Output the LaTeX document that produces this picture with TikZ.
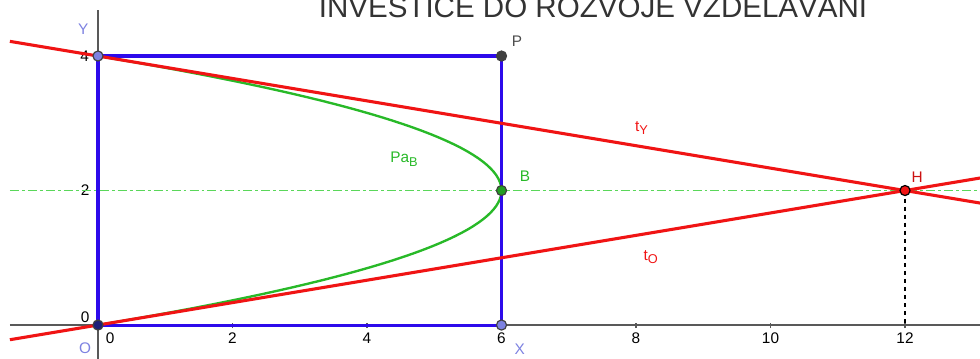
\documentclass[tikz,border=0pt]{standalone}
\usepackage{fontspec}
\setmainfont{Liberation Sans}
\usetikzlibrary{arrows.meta,positioning}
\definecolor{ggblue}{RGB}{45,10,235}
\definecolor{ggred}{RGB}{240,20,20}
\definecolor{gggreen}{RGB}{40,185,40}
\definecolor{gglight}{RGB}{90,215,90}
\definecolor{ggpale}{RGB}{125,130,225}
\definecolor{ggnavy}{RGB}{30,30,120}
\newcommand{\lowsub}[1]{\raisebox{-0.45ex}{\fontsize{5.4}{6}\selectfont #1}}

\begin{document}
\begin{tikzpicture}[
    x=1cm, y=1cm,
    every node/.style={font=\fontsize{6.5}{7.5}\selectfont},
    axis/.style={draw=black!65, line width=0.6pt},
    edge/.style={draw=ggblue, line width=1.3pt},
    tangent/.style={draw=ggred, line width=1.3pt},
    curve/.style={draw=gggreen, line width=1pt},
    level/.style={draw=gglight, line width=0.6pt, dash pattern=on 3.8pt off 1.3pt on 1.2pt off 1.3pt},
    drop/.style={draw=black, line width=0.7pt, dash pattern=on 1.7pt off 1.7pt},
    pt/.style={circle, draw=black!75, line width=0.5pt, inner sep=0pt, minimum size=1.5mm},
    ticklabel/.style={font=\fontsize{6.5}{7.5}\selectfont, inner sep=0pt}
]
\useasboundingbox (-1.457,-0.491) rectangle (13.115,4.833);
\clip (-1.457,-0.491) rectangle (13.115,4.833);
\node[anchor=base, font=\fontsize{12.5}{14}\selectfont, text=black!80] (banner) at (7.36,4.58) {INVESTICE DO ROZVOJE VZDĚLÁVÁNÍ};
\coordinate (o) at (0,0);
\coordinate (y) at (0,4);
\coordinate (p) at (6,4);
\coordinate (x) at (6,0);
\coordinate (b) at (6,2);
\coordinate (h) at (12,2);
\coordinate (h0) at (12,0);
\coordinate (xaxL) at (-1.31,0);
\coordinate (xaxR) at (13.5,0);
\coordinate (yaxB) at (0,-0.6);
\coordinate (yaxT) at (0,4.68);
\coordinate (lvlL) at (-1.31,2);
\coordinate (lvlR) at (13.5,2);
\coordinate (tyL) at (-1.31,{4+1.31/6});
\coordinate (tyR) at (13.5,{4-13.5/6});
\coordinate (toL) at (-1.31,{-1.31/6});
\coordinate (toR) at (13.5,{13.5/6});
\draw[axis] (xaxL) -- (xaxR);
\draw[axis] (yaxB) -- (yaxT);
\foreach \k in {2,4,...,12} {
  \draw[axis] (\k,-0.045) -- (\k,0.03);
  \node[ticklabel] (xl\k) at (\k,-0.2) {\k};
}
\node[ticklabel] (xl0) at (0.18,-0.19) {0};
\node[ticklabel] (yl0) at (-0.19,0.12) {0};
\node[ticklabel] (yl2) at (-0.19,2) {2};
\node[ticklabel] (yl4) at (-0.2,3.99) {4};
\draw[level] (lvlL) -- (lvlR);
\draw[drop] (h) -- (h0);
\draw[curve] plot[domain=0:4, samples=80, variable=\t] ({6-1.5*(\t-2)^2},\t);
\draw[edge] (o) -- (x) -- (p) -- (y) -- cycle;
\draw[tangent] (tyL) -- (tyR);
\draw[tangent] (toL) -- (toR);
\node[pt, fill=ggnavy] (O) at (o) {};
\node[pt, fill=ggpale] (Y) at (y) {};
\node[pt, fill=black!75] (P) at (p) {};
\node[pt, fill=ggpale] (X) at (x) {};
\node[pt, fill=gggreen!85!black] (B) at (b) {};
\node[pt, fill=ggred, draw=black] (H) at (h) {};
\node[text=ggpale] (Ylab) at (-0.22,4.4) {Y};
\node[text=ggpale] (Olab) at (-0.19,-0.34) {O};
\node[text=ggpale] (Xlab) at (6.27,-0.36) {X};
\node[text=black!70] (Plab) at (6.23,4.22) {P};
\node[text=gggreen] (Blab) at (6.35,2.21) {B};
\node[text=ggred!85!black] (Hlab) at (12.18,2.2) {H};
\node[text=gggreen] (Palab) at (4.55,2.47) {Pa\lowsub{B}};
\node[text=ggred] (tylab) at (8.08,2.93) {t\lowsub{Y}};
\node[text=ggred] (tolab) at (8.22,1.01) {t\lowsub{O}};
\end{tikzpicture}
\end{document}
